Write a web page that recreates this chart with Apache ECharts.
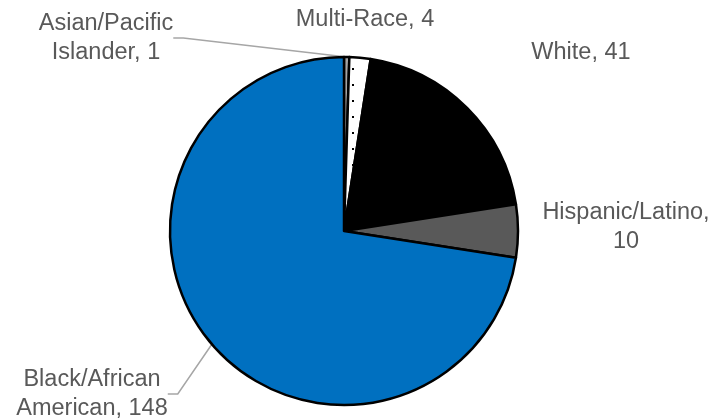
<!DOCTYPE html>
<html>
<head>
<meta charset="utf-8">
<script src="https://cdn.jsdelivr.net/npm/echarts@6/dist/echarts.min.js"></script>
<style>
html,body{margin:0;padding:0;background:#fff;}
#chart{width:725px;height:419px;}
</style>
</head>
<body>
<div id="chart"></div>
<script>
var categories = ['Asian/Pacific Islander', 'Multi-Race', 'White', 'Hispanic/Latino', 'Black/African American'];
var values = [1, 4, 41, 10, 148];
var colors = ['#a5a5a5', 'pattern', '#000000', '#595959', '#0070C0'];

var labelPos = [
  {x: 106, y: 38},
  {x: 365, y: 20},
  {x: 581, y: 53},
  {x: 626, y: 227},
  {x: 92, y: 394}
];
var showLine = [true, false, false, false, true];

function labelText(i) {
  var n = categories[i], v = values[i];
  if (i === 0) return 'Asian/Pacific\nIslander, ' + v;
  if (i === 3) return 'Hispanic/Latino,\n' + v;
  if (i === 4) return 'Black/African\nAmerican, ' + v;
  return n + ', ' + v;
}

// dotted pattern for Multi-Race
var pc = document.createElement('canvas');
pc.width = 16; pc.height = 16;
var pctx = pc.getContext('2d');
pctx.fillStyle = '#ffffff';
pctx.fillRect(0, 0, 16, 16);
pctx.fillStyle = '#000000';
pctx.fillRect(0, 4, 2, 2);

var data = categories.map(function (c, i) {
  var col = colors[i] === 'pattern' ? {image: pc, repeat: 'repeat'} : colors[i];
  return {
    name: c,
    value: values[i],
    itemStyle: {color: col},
    labelLine: {show: showLine[i], length: 10, length2: 10, lineStyle: {color: '#a6a6a6', width: 1.5}}
  };
});

var chart = echarts.init(document.getElementById('chart'), null, {renderer: 'canvas'});
chart.setOption({
  animation: false,
  series: [{
    type: 'pie',
    center: [344, 231],
    radius: 174,
    startAngle: 90,
    clockwise: true,
    data: data,
    itemStyle: {borderColor: '#000000', borderWidth: 2.5},
    label: {
      show: true,
      formatter: function (p) { return labelText(p.dataIndex); },
      fontFamily: 'Liberation Sans, Arial, sans-serif',
      fontSize: 23.5,
      lineHeight: 29,
      color: '#595959',
      align: 'center'
    },
    labelLayout: function (params) {
      var p = labelPos[params.dataIndex];
      return {x: p.x, y: p.y, align: 'center', verticalAlign: 'middle'};
    },
    emphasis: {disabled: true}
  }]
});
</script>
</body>
</html>
